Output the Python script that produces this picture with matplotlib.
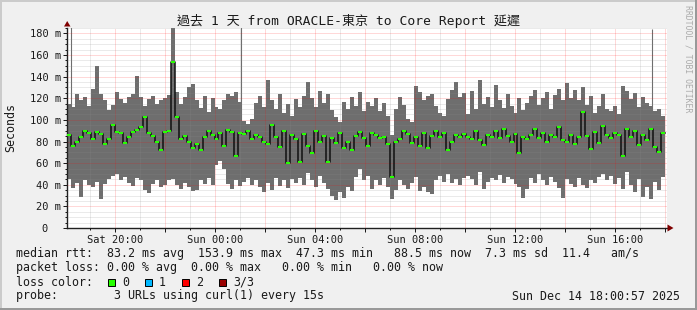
import numpy as np
import matplotlib.pyplot as plt
from matplotlib.patches import Rectangle, Polygon
plt.rcParams.update({
    'font.family': 'DejaVu Sans Mono',
    'font.size': 7.5,
})

W, H = 697, 310

# time window, hours since Sat 00:00
t_start, t_data_end, t_end = 18.08, 42.0, 42.08

# smoke band (min / max rtt) and median, ms, ~9.6 min per sample
upper_ms = [
    115, 112, 124, 118, 121, 113, 129, 150, 124, 118, 109, 114, 126, 119, 116, 121, 124, 141, 121, 113, 119, 122, 115, 118, 120,
    123, 185, 126, 115, 121, 130, 133, 118, 111, 122, 107, 120, 112, 110, 118, 124, 122, 126, 117, 99, 96, 101, 116, 122, 112,
    137, 118, 110, 124, 106, 115, 104, 119, 112, 122, 135, 120, 112, 127, 116, 124, 109, 103, 98, 117, 110, 121, 113, 126, 108,
    117, 113, 120, 108, 116, 104, 86, 110, 121, 114, 101, 98, 131, 126, 118, 122, 124, 113, 106, 104, 119, 128, 135, 121, 125,
    105, 127, 110, 137, 115, 121, 112, 132, 118, 111, 124, 113, 106, 120, 109, 116, 122, 128, 114, 120, 126, 110, 123, 129, 118,
    134, 120, 128, 118, 130, 114, 122, 106, 113, 124, 110, 108, 113, 105, 131, 127, 119, 125, 112, 121, 116, 113, 108, 110, 104,
]
lower_ms = [
    45, 37, 42, 29, 44, 40, 38, 43, 27, 41, 45, 48, 50, 44, 47, 42, 39, 46, 44, 35, 32, 41, 44, 38, 40,
    44, 45, 40, 36, 42, 38, 34, 35, 44, 41, 46, 40, 58, 62, 55, 41, 36, 44, 39, 43, 46, 40, 44, 38, 33,
    42, 35, 46, 39, 44, 37, 45, 42, 46, 40, 51, 44, 38, 48, 42, 36, 30, 26, 33, 28, 38, 34, 47, 55, 44,
    48, 36, 44, 40, 46, 38, 27, 35, 44, 40, 36, 42, 47, 34, 38, 33, 31, 44, 48, 43, 50, 42, 45, 40, 46,
    48, 45, 40, 52, 36, 43, 46, 44, 49, 42, 47, 45, 41, 38, 28, 36, 46, 42, 50, 44, 40, 47, 43, 37, 28,
    45, 41, 38, 46, 40, 37, 44, 42, 47, 50, 44, 48, 41, 46, 36, 52, 40, 33, 45, 29, 38, 27, 43, 35, 47,
]
median_ms = [
    86, 76, 80, 84, 90, 88, 82, 89, 87, 78, 82, 95, 89, 88, 79, 84, 89, 91, 93, 103, 88, 85, 80, 72, 89,
    90, 154, 103, 82, 85, 80, 74, 78, 72, 84, 90, 86, 82, 88, 76, 91, 89, 67, 88, 87, 90, 82, 86, 84, 80,
    78, 95, 84, 75, 90, 60, 86, 82, 61, 87, 76, 69, 90, 80, 85, 61, 83, 79, 88, 74, 80, 72, 85, 89, 83,
    76, 88, 86, 83, 84, 78, 47, 80, 82, 90, 87, 79, 84, 76, 88, 74, 85, 90, 84, 88, 72, 80, 86, 84, 87,
    84, 82, 90, 81, 77, 86, 84, 90, 83, 92, 85, 80, 87, 69, 84, 82, 86, 92, 83, 88, 80, 86, 84, 93, 81,
    80, 86, 78, 84, 107, 85, 73, 89, 79, 94, 86, 83, 88, 86, 67, 92, 84, 90, 77, 86, 81, 92, 75, 70, 88,
]

# single-sample outliers that hit the top of the graph
spike_hours = [18.24, 25.04, 41.48]
spike_top_ms = [186, 186, 184]

label_hours = [20, 24, 28, 32, 36, 40]
label_texts = ['Sat 20:00', 'Sun 00:00', 'Sun 04:00', 'Sun 08:00', 'Sun 12:00', 'Sun 16:00']
ms_ticks = list(range(0, 181, 20))

loss_labels = ['0', '1', '2', '3/3']
loss_colors = ['#26ff00', '#00b8ff', '#ff0000', '#990000']

title = '過去 1 天 from ORACLE-東京 to Core Report 延遲'
stat_lines = [
    'median rtt:  83.2 ms avg  153.9 ms max  47.3 ms min   88.5 ms now  7.3 ms sd  11.4   am/s',
    'packet loss: 0.00 % avg  0.00 % max   0.00 % min   0.00 % now',
    'loss color:',
    'probe:        3 URLs using curl(1) every 15s',
]
stamp = 'Sun Dec 14 18:00:57 2025'

smoke = '#6e6e6e'
ink = '#1a1a1a'


def fx(x):
    return x / W


def fy(y):
    return 1 - y / H


fig = plt.figure(figsize=(W / 100, H / 100), dpi=100, facecolor='#f0f0f0')
# 3d-ish border
fig.patches.append(Rectangle((0, fy(2)), 1, 2 / H, transform=fig.transFigure, color='#cbcbcb', lw=0))
fig.patches.append(Rectangle((0, 0), 2 / W, 1, transform=fig.transFigure, color='#cbcbcb', lw=0))
fig.patches.append(Rectangle((0, 0), 1, 2 / H, transform=fig.transFigure, color='#999999', lw=0))
fig.patches.append(Rectangle((fx(W - 2), 0), 2 / W, 1, transform=fig.transFigure, color='#999999', lw=0))

ax = fig.add_axes([fx(67), fy(228), 600 / W, 200 / H])
ax.set_facecolor('white')

n = len(upper_ms)
w = (t_data_end - t_start) / n
edges = t_start + w * np.arange(n)
ax.bar(edges, np.subtract(upper_ms, lower_ms), bottom=lower_ms, width=w,
       align='edge', color=smoke, linewidth=0, zorder=1)
ax.vlines(spike_hours, 90, spike_top_ms, color=smoke, lw=0.8, zorder=1)

med = np.array(median_ms, dtype=float)
ax.step(np.append(edges, t_data_end), np.append(med, med[-1]), where='post',
        color='#111111', lw=1.1, zorder=4)
ax.hlines(med, edges, edges + w, color=loss_colors[0], lw=1.5, zorder=5)

ax.set_xlim(t_start, t_end)
ax.set_ylim(0, 185)

xmaj = np.arange(20, 43, 2)
ax.set_xticks(xmaj)
ax.set_xticklabels([label_texts[label_hours.index(h)] if h in label_hours else '' for h in xmaj])
ax.set_xticks(np.arange(19, 43, 1), minor=True)
ax.set_yticks(ms_ticks)
ax.set_yticklabels([f'{v} m' if v else '0  ' for v in ms_ticks])
ax.set_yticks(np.arange(0, 186, 5), minor=True)

dot = (0, (1, 1))
ax.set_axisbelow(False)
ax.grid(which='minor', color='#8c8c8c', alpha=0.35, linestyle=dot, lw=0.72)
ax.grid(which='major', color='#ff0000', alpha=0.3, linestyle=dot, lw=0.72)

ax.tick_params(which='major', length=3, width=0.72, color=ink, labelcolor=ink, labelsize=7.5)
ax.tick_params(which='minor', length=1.5, width=0.72, color=ink)
ax.tick_params(axis='y', pad=1.5)
ax.tick_params(axis='x', pad=2)
for s in ['top', 'right']:
    ax.spines[s].set_visible(False)
for s in ['left', 'bottom']:
    ax.spines[s].set_color('#202020')
    ax.spines[s].set_linewidth(1.0)

# axis arrows
fig.patches.append(Polygon([(fx(64), fy(26.5)), (fx(70.5), fy(26.5)), (fx(67.2), fy(21))],
                           closed=True, transform=fig.transFigure, color='#800000', lw=0))
fig.patches.append(Polygon([(fx(667.5), fy(224.5)), (fx(667.5), fy(231.5)), (fx(673.5), fy(228))],
                           closed=True, transform=fig.transFigure, color='#800000', lw=0))

fig.text(fx(348.5), fy(21.5), title, ha='center', va='center', fontsize=9.4, color=ink,
         family=['DejaVu Sans Mono', 'Noto Sans CJK TC'])
fig.text(fx(11), fy(128), 'Seconds', rotation=90, ha='center', va='center', fontsize=8.4, color=ink)
fig.text(fx(688), fy(59), 'RRDTOOL / TOBI OETIKER', rotation=270, ha='center', va='center',
         fontsize=5.9, color='#ababab')

for k, line in enumerate(stat_lines):
    fig.text(fx(16), fy(254 + 14 * k), line, ha='left', va='center', fontsize=8.4, color=ink)

for k, (lab, col) in enumerate(zip(loss_labels, loss_colors)):
    bx = 108 + 37 * k
    fig.patches.append(Rectangle((fx(bx), fy(286)), 7 / W, 7 / H, transform=fig.transFigure,
                                 facecolor=col, edgecolor='black', lw=0.7))
    fig.text(fx(bx + 14), fy(282), lab, ha='left', va='center', fontsize=8.4, color=ink)

fig.text(fx(680), fy(296), stamp, ha='right', va='center', fontsize=8.4, color=ink)

fig.savefig('out.png', dpi=100, facecolor=fig.get_facecolor())
